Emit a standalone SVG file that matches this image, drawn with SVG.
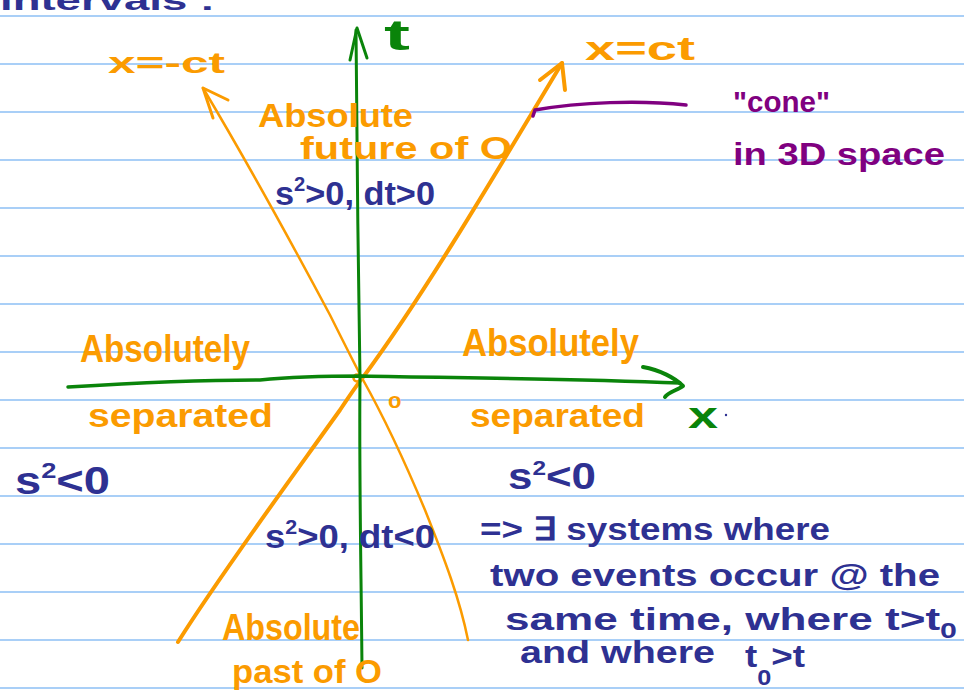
<svg xmlns="http://www.w3.org/2000/svg" width="964" height="692" viewBox="0 0 964 692">
<style>
.rule{stroke:#a9cff7;stroke-width:2}
.or{fill:#fb9b00;font-family:"Liberation Sans",Arial,sans-serif;font-weight:bold}
.nv{fill:#2e3192;font-family:"Liberation Sans",Arial,sans-serif;font-weight:bold}
.gr{fill:#0a840a;font-family:"Liberation Sans",Arial,sans-serif;font-weight:bold}
.pu{fill:#800080;font-family:"Liberation Sans",Arial,sans-serif;font-weight:bold}
.ol{fill:none;stroke:#fb9b00;stroke-linecap:round;stroke-linejoin:round}
.gl{fill:none;stroke:#0a840a;stroke-linecap:round;stroke-linejoin:round}
</style>
<rect width="964" height="692" fill="#ffffff"/>
<g id="paper">
<line class="rule" x1="0" y1="16" x2="964" y2="16"/>
<line class="rule" x1="0" y1="64" x2="964" y2="64"/>
<line class="rule" x1="0" y1="112" x2="964" y2="112"/>
<line class="rule" x1="0" y1="160" x2="964" y2="160"/>
<line class="rule" x1="0" y1="208" x2="964" y2="208"/>
<line class="rule" x1="0" y1="256" x2="964" y2="256"/>
<line class="rule" x1="0" y1="304" x2="964" y2="304"/>
<line class="rule" x1="0" y1="352" x2="964" y2="352"/>
<line class="rule" x1="0" y1="400" x2="964" y2="400"/>
<line class="rule" x1="0" y1="448" x2="964" y2="448"/>
<line class="rule" x1="0" y1="496" x2="964" y2="496"/>
<line class="rule" x1="0" y1="544" x2="964" y2="544"/>
<line class="rule" x1="0" y1="592" x2="964" y2="592"/>
<line class="rule" x1="0" y1="640" x2="964" y2="640"/>
<line class="rule" x1="0" y1="688" x2="964" y2="688"/>
</g>
<text class="nv" x="0" y="10" font-size="28" textLength="215" lengthAdjust="spacingAndGlyphs">intervals :</text>
<g id="light-cone">
<path class="ol" stroke-width="2.5" d="M203,88 C240,150 290,240 330,315 C345,345 355,365 362,378 C380,410 400,450 425,510 C445,560 460,600 468,640"/>
<path class="ol" stroke-width="3" d="M228,100 L203,88 L213,118"/>
<path class="ol" stroke-width="4" d="M178,642 C220,575 290,480 340,410 C352,392 358,383 364,376 C420,300 480,200 562,63"/>
<path class="ol" stroke-width="4" d="M540,80 L562,63 L565,90"/>
<circle cx="357" cy="378" r="3.5" fill="none" stroke="#fb9b00" stroke-width="2.5"/>
</g>
<g id="axes">
<path class="gl" stroke-width="3" d="M362,668 C361,560 359,470 360,378 C358,260 357,150 356,30"/>
<path class="gl" stroke-width="3" d="M350,60 L357,28 L367,58"/>
<path class="gl" stroke-width="3.5" d="M68,387 C150,382 200,380 260,380 C300,376 330,376 362,376 C450,378 560,378 680,383"/>
<path class="gl" stroke-width="4" d="M643,367 C660,370 675,378 683,386 C678,390 668,392 665,397"/>
</g>
<g id="cone-note">
<path fill="none" stroke="#800080" stroke-width="3.5" stroke-linecap="round" d="M533,116 L535,110 C580,102 640,100 686,105"/>
</g>
<text class="or" x="108" y="73" font-size="30" textLength="117" lengthAdjust="spacingAndGlyphs">x=-ct</text>
<text class="or" x="585" y="60" font-size="34" textLength="110" lengthAdjust="spacingAndGlyphs">x=ct</text>
<text class="gr" x="384" y="50" font-size="42" textLength="26" lengthAdjust="spacingAndGlyphs">t</text>
<text class="or" x="258" y="127" font-size="33" textLength="155" lengthAdjust="spacingAndGlyphs">Absolute</text>
<text class="or" x="300" y="159" font-size="31" textLength="212" lengthAdjust="spacingAndGlyphs">future of O</text>
<text class="nv" x="275" y="205" font-size="34" textLength="160" lengthAdjust="spacingAndGlyphs">s<tspan font-size="20" dy="-14">2</tspan><tspan dy="14">&gt;0, dt&gt;0</tspan></text>
<text class="pu" x="733" y="112" font-size="30" textLength="97" lengthAdjust="spacingAndGlyphs">"cone"</text>
<text class="pu" x="733" y="165" font-size="32" textLength="212" lengthAdjust="spacingAndGlyphs">in 3D space</text>
<text class="or" x="80" y="362" font-size="38" textLength="170" lengthAdjust="spacingAndGlyphs">Absolutely</text>
<text class="or" x="88" y="427" font-size="34" textLength="185" lengthAdjust="spacingAndGlyphs">separated</text>
<text class="or" x="462" y="356" font-size="38" textLength="177" lengthAdjust="spacingAndGlyphs">Absolutely</text>
<text class="or" x="470" y="427" font-size="34" textLength="175" lengthAdjust="spacingAndGlyphs">separated</text>
<text class="or" x="388" y="408" font-size="22">o</text>
<text class="gr" x="688" y="428" font-size="36" textLength="30" lengthAdjust="spacingAndGlyphs">x</text>
<circle cx="726" cy="415" r="1.2" fill="#2e3192"/>
<text class="nv" x="15" y="494" font-size="38" textLength="95" lengthAdjust="spacingAndGlyphs">s<tspan font-size="22" dy="-16">2</tspan><tspan dy="16">&lt;0</tspan></text>
<text class="nv" x="508" y="489" font-size="36" textLength="88" lengthAdjust="spacingAndGlyphs">s<tspan font-size="20" dy="-14">2</tspan><tspan dy="14">&lt;0</tspan></text>
<text class="nv" x="265" y="548" font-size="34" textLength="170" lengthAdjust="spacingAndGlyphs">s<tspan font-size="20" dy="-14">2</tspan><tspan dy="14">&gt;0, dt&lt;0</tspan></text>
<text class="nv" x="480" y="540" font-size="32" textLength="350" lengthAdjust="spacingAndGlyphs">=&gt; ∃ systems where</text>
<text class="nv" x="490" y="586" font-size="32" textLength="450" lengthAdjust="spacingAndGlyphs">two events occur @ the</text>
<text class="nv" x="505" y="630" font-size="32" textLength="452" lengthAdjust="spacingAndGlyphs">same time, where t&gt;t<tspan font-size="22" dy="8">0</tspan></text>
<text class="nv" x="520" y="663" font-size="32" textLength="195" lengthAdjust="spacingAndGlyphs">and where</text>
<text class="nv" x="745" y="667" font-size="32" textLength="60" lengthAdjust="spacingAndGlyphs">t<tspan font-size="22" dy="18">0</tspan><tspan dy="-18">&gt;t</tspan></text>
<text class="or" x="222" y="640" font-size="36" textLength="138" lengthAdjust="spacingAndGlyphs">Absolute</text>
<text class="or" x="232" y="683" font-size="34" textLength="150" lengthAdjust="spacingAndGlyphs">past of O</text>
</svg>
